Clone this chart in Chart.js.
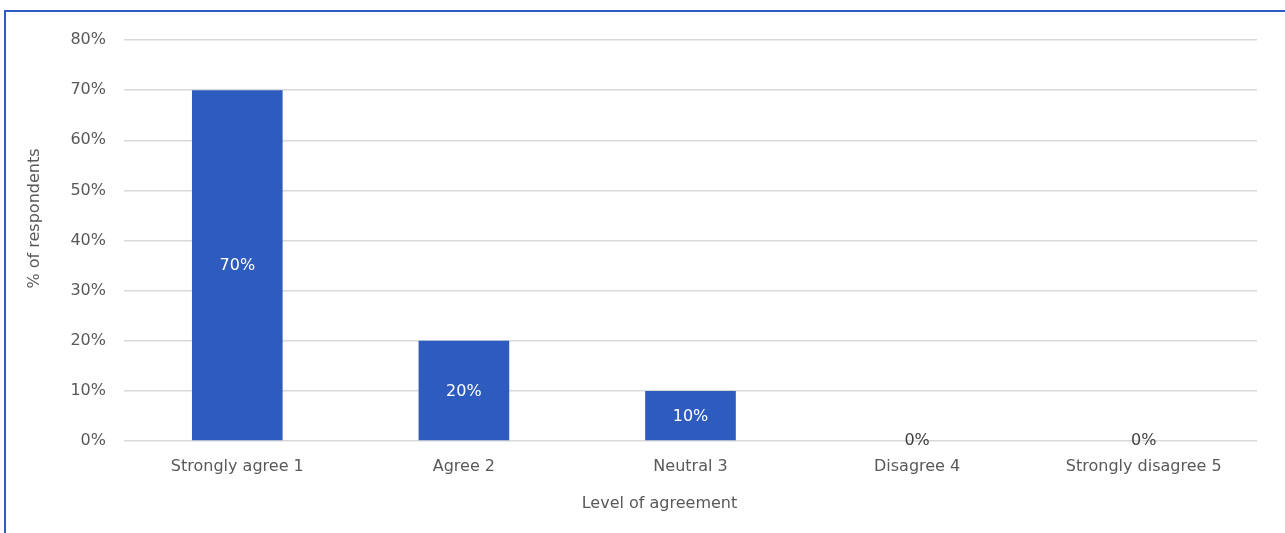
<!DOCTYPE html>
<html>
<head>
<meta charset="utf-8">
<script src="https://cdn.jsdelivr.net/npm/chart.js@4/dist/chart.umd.min.js"></script>
<style>
    html, body { margin: 0; padding: 0; background: #fff; }
    #wrap { position: relative; width: 1285px; height: 533px; }
    #frame {
        position: absolute; left: 4px; top: 10px; right: 0; bottom: 0;
        border-left: 2px solid #2f5cc0; border-top: 2px solid #2f5cc0;
        pointer-events: none;
    }
    canvas { display: block; }
</style>
</head>
<body>
<div id="wrap">
    <canvas id="barChart" width="1285" height="533"></canvas>
    <div id="frame"></div>
</div>
<script>
// Datos del gráfico
const categories = ['Strongly agree 1', 'Agree 2', 'Neutral 3', 'Disagree 4', 'Strongly disagree 5'];
const percentValues = [70, 20, 10, 0, 0];
const yTicks = [0, 10, 20, 30, 40, 50, 60, 70, 80];
const xTitle = 'Level of agreement';
const yTitle = '% of respondents';

const FONT = '"DejaVu Sans", sans-serif';
const SIZE = 16;
const TEXT = '#595959';

// Etiquetas de valor y títulos de ejes
const valueLabels = {
    id: 'valueLabels',
    afterDatasetsDraw(chart) {
        const ctx = chart.ctx;
        const meta = chart.getDatasetMeta(0);
        const area = chart.chartArea;
        ctx.save();
        ctx.font = SIZE + 'px ' + FONT;
        ctx.textAlign = 'center';
        ctx.textBaseline = 'middle';
        meta.data.forEach((bar, i) => {
            const v = percentValues[i];
            const y = v > 0 ? (bar.y + bar.base) / 2 + 1 : bar.base;
            ctx.fillStyle = v > 0 ? '#ffffff' : '#404040';
            ctx.fillText(v + '%', bar.x, y);
        });
        // títulos (Excel los deja algo descentrados)
        ctx.fillStyle = TEXT;
        ctx.fillText(xTitle, (area.left + area.right) / 2 - 31, chart.height - 29);
        ctx.translate(35, (area.top + area.bottom) / 2 - 22);
        ctx.rotate(-Math.PI / 2);
        ctx.fillText(yTitle, 0, 0);
        ctx.restore();
    }
};

new Chart(document.getElementById('barChart'), {
    type: 'bar',
    data: {
        labels: categories,
        datasets: [{
            data: percentValues,
            backgroundColor: '#2e5bbe',
            categoryPercentage: 1,
            barPercentage: 0.4
        }]
    },
    options: {
        responsive: false,
        animation: false,
        layout: { padding: { top: 40, right: 28, left: 0, bottom: 0 } },
        plugins: { legend: { display: false }, tooltip: { enabled: false } },
        scales: {
            x: {
                grid: { display: false, drawTicks: false },
                border: { display: false },
                ticks: { color: TEXT, font: { family: FONT, size: SIZE }, padding: 16, maxRotation: 0 },
                afterFit(scale) { scale.height = 92; }
            },
            y: {
                min: 0, max: 80,
                grid: { color: '#d9d9d9', lineWidth: 1.5, drawTicks: false },
                border: { display: false },
                afterBuildTicks(scale) { scale.ticks = yTicks.map(v => ({ value: v })); },
                ticks: {
                    color: TEXT, font: { family: FONT, size: SIZE }, padding: 18,
                    callback: v => v + '%'
                },
                afterFit(scale) { scale.width = 124; }
            }
        }
    },
    plugins: [valueLabels]
});
</script>
</body>
</html>
